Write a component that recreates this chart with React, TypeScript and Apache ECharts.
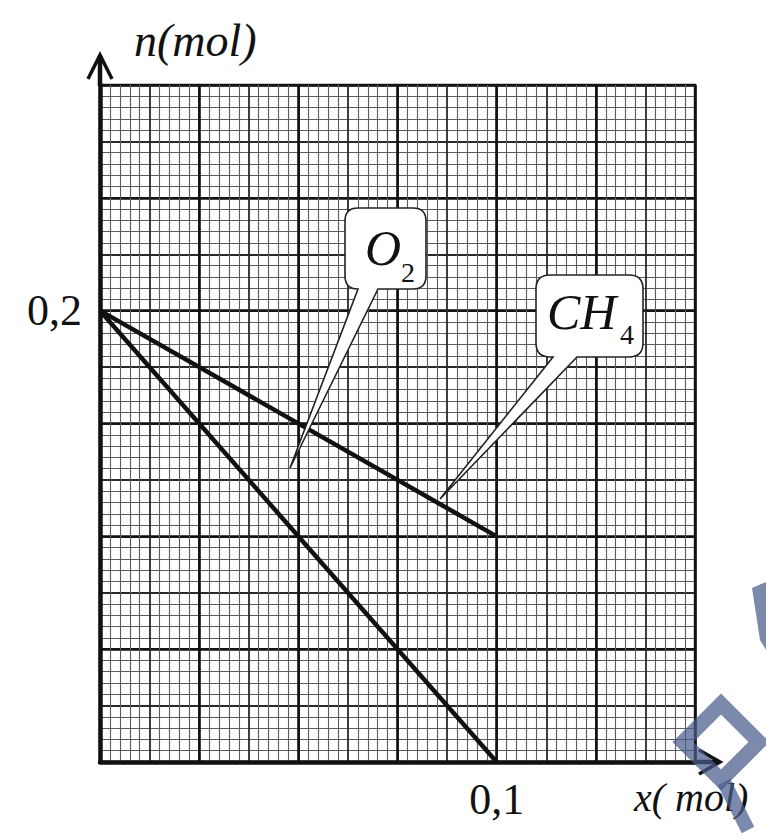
import React, { useEffect, useRef } from "react";
import * as echarts from "echarts";

// Reaction progress x (mol) against amount n (mol) of each gas
const xValues = [0, 0.1];
const o2Values = [0.2, 0];
const ch4Values = [0.2, 0.1];

// Axis ranges and the only labelled ticks
const xRange = [0, 0.15];
const yRange = [0, 0.3];
const xLabelled = [0.1];
const yLabelled = [0.2];

const SERIF = "Liberation Serif";

const GRID = { left: 100, top: 85, right: 71, bottom: 77 };

// Speech-bubble outline: rounded box with a tapered pointer leaving its bottom edge
function bubblePath(
  l: number, t: number, r: number, b: number, rad: number,
  p1: number, p2: number, tipX: number, tipY: number
) {
  return [
    `M ${l + rad} ${t}`,
    `L ${r - rad} ${t}`,
    `Q ${r} ${t} ${r} ${t + rad}`,
    `L ${r} ${b - rad}`,
    `Q ${r} ${b} ${r - rad} ${b}`,
    `L ${p2} ${b}`,
    `L ${tipX} ${tipY}`,
    `L ${p1} ${b}`,
    `L ${l + rad} ${b}`,
    `Q ${l} ${b} ${l} ${b - rad}`,
    `L ${l} ${t + rad}`,
    `Q ${l} ${t} ${l + rad} ${t}`,
    "Z",
  ].join(" ");
}

echarts.graphic.registerShape(
  "bubbleO2",
  echarts.graphic.extendPath(bubblePath(345, 208, 426, 289, 13, 358, 378, 290, 468), {})
);
echarts.graphic.registerShape(
  "bubbleCH4",
  echarts.graphic.extendPath(bubblePath(536, 275, 643, 357, 14, 553, 577, 440, 499), {})
);

const fmt = (v: number) => v.toFixed(1).replace(".", ",");
const isLabelled = (list: number[], v: number) => list.some((t) => Math.abs(t - v) < 1e-9);

const ink = "#111";

function label(text: string, x: number, y: number, size: number, italic: boolean, z = 21) {
  return {
    type: "text",
    x,
    y,
    z,
    style: {
      text,
      fontFamily: SERIF,
      fontSize: size,
      fontStyle: italic ? "italic" : "normal",
      fill: ink,
      textAlign: "left",
      textVerticalAlign: "middle",
    },
  };
}

export default function App() {
  const ref = useRef<HTMLDivElement>(null);

  useEffect(() => {
    if (!ref.current) return;
    const chart = echarts.init(ref.current, null, { renderer: "svg" });

    const minorLine = { color: "#5c5c5c", width: 1.1 };
    const midLine = { color: "#2a2a2a", width: 1.8 };
    const majorLine = { color: "#111", width: 2.6 };
    const axisStroke = { color: "#111", width: 4.5 };
    const mark = "rgba(72,92,140,0.72)";

    chart.setOption({
      animation: false,
      backgroundColor: "#fff",
      grid: {
        ...GRID,
        show: true,
        backgroundColor: "#fff",
        borderColor: "#111",
        borderWidth: 2.4,
      },
      xAxis: [
        {
          type: "value",
          position: "bottom",
          min: xRange[0],
          max: xRange[1],
          interval: 0.0125,
          axisLine: { show: false },
          axisTick: { show: false },
          axisLabel: { show: false },
          splitLine: { show: true, lineStyle: midLine },
          minorTick: { show: false, splitNumber: 5 },
          minorSplitLine: { show: true, lineStyle: minorLine },
        },
        {
          type: "value",
          position: "bottom",
          min: xRange[0],
          max: xRange[1],
          interval: 0.025,
          axisLine: { show: true, onZero: false, lineStyle: axisStroke },
          axisTick: { show: false },
          splitLine: { show: true, lineStyle: majorLine },
          axisLabel: {
            show: true,
            margin: 15,
            fontSize: 44,
            fontFamily: SERIF,
            color: ink,
            hideOverlap: false,
            formatter: (v: number) => (isLabelled(xLabelled, v) ? fmt(v) : ""),
          },
        },
      ],
      yAxis: [
        {
          type: "value",
          position: "left",
          min: yRange[0],
          max: yRange[1],
          interval: 0.025,
          axisLine: { show: false },
          axisTick: { show: false },
          axisLabel: { show: false },
          splitLine: { show: true, lineStyle: midLine },
          minorTick: { show: false, splitNumber: 5 },
          minorSplitLine: { show: true, lineStyle: minorLine },
        },
        {
          type: "value",
          position: "left",
          min: yRange[0],
          max: yRange[1],
          interval: 0.05,
          axisLine: { show: true, onZero: false, lineStyle: axisStroke },
          axisTick: { show: false },
          splitLine: { show: true, lineStyle: majorLine },
          axisLabel: {
            show: true,
            margin: 18,
            fontSize: 44,
            fontFamily: SERIF,
            color: ink,
            hideOverlap: false,
            formatter: (v: number) => (isLabelled(yLabelled, v) ? fmt(v) : ""),
          },
        },
      ],
      series: [
        {
          name: "O2",
          type: "line",
          xAxisIndex: 1,
          yAxisIndex: 1,
          data: xValues.map((x, i) => [x, o2Values[i]]),
          symbol: "none",
          lineStyle: { color: ink, width: 4.5 },
          z: 5,
        },
        {
          name: "CH4",
          type: "line",
          xAxisIndex: 1,
          yAxisIndex: 1,
          data: xValues.map((x, i) => [x, ch4Values[i]]),
          symbol: "none",
          lineStyle: { color: ink, width: 4.5 },
          z: 5,
        },
      ],
      graphic: [
        // axis arrows
        {
          type: "line",
          shape: { x1: 100, y1: 86, x2: 100, y2: 56 },
          style: { stroke: ink, lineWidth: 4.5 },
          z: 10,
        },
        {
          type: "polyline",
          shape: { points: [[88, 79], [100, 55], [112, 79]] },
          style: { stroke: ink, lineWidth: 3.5, fill: null },
          z: 10,
        },
        {
          type: "line",
          shape: { x1: 694, y1: 762, x2: 719, y2: 762 },
          style: { stroke: ink, lineWidth: 4.5 },
          z: 10,
        },
        {
          type: "polyline",
          shape: { points: [[699, 750], [720, 762], [699, 774]] },
          style: { stroke: ink, lineWidth: 3.5, fill: null },
          z: 10,
        },
        // axis titles
        label("n(mol)", 134, 40, 46, true, 10),
        label("x( mol)", 634, 797, 40, true, 10),
        // callouts
        {
          type: "bubbleO2",
          style: { fill: "#fff", stroke: "#222", lineWidth: 1.6 },
          z: 20,
        },
        label("O", 365, 248, 50, true),
        label("2", 401, 272, 28, false),
        {
          type: "bubbleCH4",
          style: { fill: "#fff", stroke: "#222", lineWidth: 1.6 },
          z: 20,
        },
        label("CH", 547, 312, 50, true),
        label("4", 620, 334, 28, false),
        // publisher mark in the lower right corner
        {
          type: "polygon",
          shape: { points: [[683, 742], [721, 704], [759, 742], [721, 780]] },
          style: { fill: null, stroke: mark, lineWidth: 15, lineJoin: "miter" },
          z: 30,
        },
        {
          type: "polygon",
          shape: { points: [[752, 588], [766, 582], [766, 650], [760, 640]] },
          style: { fill: mark },
          z: 30,
        },
        {
          type: "line",
          shape: { x1: 724, y1: 782, x2: 748, y2: 830 },
          style: { stroke: mark, lineWidth: 14 },
          z: 30,
        },
      ],
    });

    return () => chart.dispose();
  }, []);

  return (
    <div
      ref={ref}
      style={{ position: "absolute", left: 0, top: 0, width: 766, height: 839 }}
    />
  );
}
